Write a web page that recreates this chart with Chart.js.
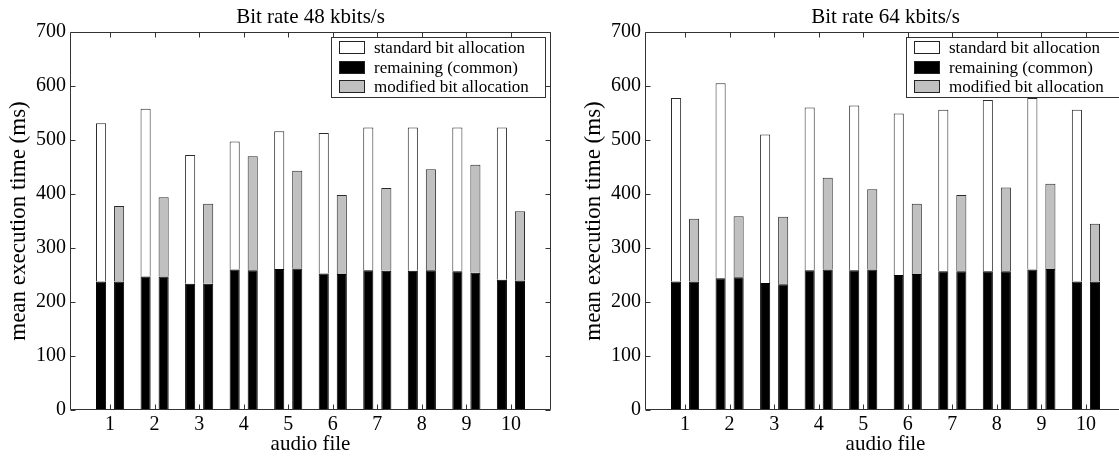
<!DOCTYPE html>
<html>
<head>
<meta charset="utf-8">
<script src="https://cdn.jsdelivr.net/npm/chart.js@4.4.1/dist/chart.umd.min.js"></script>
<style>
  html, body { margin: 0; padding: 0; background: #fff; width: 1119px; height: 458px; overflow: hidden; }
  #wrap { position: relative; width: 1119px; height: 458px; overflow: hidden; }
  #c1 { position: absolute; left: 0; top: 0; }
  #c2 { position: absolute; left: 575px; top: 0; }
</style>
</head>
<body>
<div id="wrap">
  <canvas id="c1" width="575" height="458"></canvas>
  <canvas id="c2" width="551" height="458"></canvas>
</div>
<script>
// ---- data ----
const audioFiles = [1, 2, 3, 4, 5, 6, 7, 8, 9, 10];
const xTickLabels = ['1', '2', '3', '4', '5', '6', '7', '8', '9', '10'];
const yTickValues = [0, 100, 200, 300, 400, 500, 600, 700];
const legendLabels = ['standard bit allocation', 'remaining (common)', 'modified bit allocation'];
const titles = ['Bit rate 48 kbits/s', 'Bit rate 64 kbits/s'];

// 48 kbits/s
const standard48   = [531, 558, 472, 497, 516, 513, 523, 523, 523, 523];
const commonStd48  = [238, 247, 234, 260, 261, 253, 259, 258, 257, 241];
const modified48   = [378, 394, 382, 470, 443, 398, 411, 446, 454, 368];
const commonMod48  = [238, 247, 234, 259, 262, 252, 258, 259, 254, 240];

// 64 kbits/s
const standard64   = [578, 605, 510, 560, 564, 549, 556, 574, 578, 556];
const commonStd64  = [238, 244, 235, 259, 259, 250, 257, 257, 260, 238];
const modified64   = [354, 359, 358, 430, 409, 382, 398, 412, 419, 345];
const commonMod64  = [238, 246, 233, 260, 260, 252, 257, 257, 261, 238];

const FONT = "'Liberation Serif', 'Times New Roman', serif";
const WHITE = '#ffffff', BLACK = '#000000', GREY = '#c0c0c0', EDGE = '#2a2a2a';

function floating(lo, hi) {
  return audioFiles.map((x, i) => ({ x: x, y: [lo ? lo[i] : 0, hi[i]] }));
}

function makeDatasets(std, cStd, mod, cMod) {
  const common = { borderWidth: 1, categoryPercentage: 0.81, barPercentage: 0.56 };
  return [
    Object.assign({ label: legendLabels[1], data: floating(null, cStd), backgroundColor: BLACK, borderColor: BLACK, stack: 'std', borderSkipped: false }, common),
    Object.assign({ label: legendLabels[0], data: floating(cStd, std), backgroundColor: WHITE, borderColor: EDGE, stack: 'std', borderSkipped: 'start' }, common),
    Object.assign({ label: legendLabels[1], data: floating(null, cMod), backgroundColor: BLACK, borderColor: BLACK, stack: 'mod', borderSkipped: false }, common),
    Object.assign({ label: legendLabels[2], data: floating(cMod, mod), backgroundColor: GREY, borderColor: EDGE, stack: 'mod', borderSkipped: 'start' }, common)
  ];
}

const framePlugin = {
  id: 'frame',
  afterDraw(chart, args, opts) {
    const ctx = chart.ctx;
    const a = chart.chartArea;
    const xs = chart.scales.x, ys = chart.scales.y;
    const L = Math.round(a.left) + 0.5, R = Math.round(a.right) - 0.5;
    const T = Math.round(a.top) + 0.5, B = Math.round(a.bottom) - 0.5;
    ctx.save();
    ctx.strokeStyle = '#333';
    ctx.lineWidth = 1;
    ctx.beginPath();
    ctx.rect(L, T, R - L, B - T);
    // inward ticks
    const tl = 5;
    yTickValues.forEach(v => {
      const y = Math.round(ys.getPixelForValue(v)) + 0.5;
      ctx.moveTo(L, y); ctx.lineTo(L + tl, y);
      ctx.moveTo(R, y); ctx.lineTo(R - tl, y);
    });
    audioFiles.forEach(v => {
      const x = Math.round(xs.getPixelForValue(v)) + 0.5;
      ctx.moveTo(x, B); ctx.lineTo(x, B - tl);
      ctx.moveTo(x, T); ctx.lineTo(x, T + tl);
    });
    ctx.stroke();

    // title centred over the axes
    ctx.fillStyle = '#000';
    ctx.font = '21px ' + FONT;
    ctx.textAlign = 'center';
    ctx.textBaseline = 'middle';
    ctx.fillText(opts.title, (a.left + a.right) / 2, 17);

    // legend inside the axes, upper right
    const lw = 214, lh = 60;
    const lx = Math.round(a.right) - 6 - lw, ly = Math.round(a.top) + 5;
    ctx.fillStyle = '#fff';
    ctx.fillRect(lx, ly, lw, lh);
    ctx.strokeStyle = '#333';
    ctx.strokeRect(lx + 0.5, ly + 0.5, lw, lh);
    const items = [
      { text: legendLabels[0], fill: WHITE },
      { text: legendLabels[1], fill: BLACK },
      { text: legendLabels[2], fill: GREY }
    ];
    ctx.font = '17px ' + FONT;
    ctx.textAlign = 'left';
    items.forEach((it, i) => {
      const cy = ly + 10.7 + i * 19.5;
      ctx.fillStyle = it.fill;
      ctx.fillRect(lx + 8, Math.round(cy - 6.5), 26, 13);
      ctx.strokeStyle = '#222';
      ctx.strokeRect(lx + 8.5, Math.round(cy - 6.5) + 0.5, 25, 12);
      ctx.fillStyle = '#000';
      ctx.fillText(it.text, lx + 43, cy + 1);
    });
    ctx.restore();
  }
};

function makeChart(canvasId, datasets, title, padRight) {
  return new Chart(document.getElementById(canvasId), {
    type: 'bar',
    data: { datasets: datasets },
    plugins: [framePlugin],
    options: {
      responsive: false,
      animation: false,
      devicePixelRatio: 1,
      layout: { padding: { top: 32, right: padRight, left: 0, bottom: 0 } },
      plugins: {
        legend: { display: false },
        title: { display: false },
        tooltip: { enabled: false },
        frame: { title: title }
      },
      scales: {
        x: {
          type: 'linear',
          min: 0.1,
          max: 10.9,
          offset: false,
          grid: { display: false, drawTicks: false },
          border: { display: false },
          afterBuildTicks: (s) => { s.ticks = audioFiles.map(v => ({ value: v })); },
          afterFit: (s) => { s.height = 48; },
          ticks: {
            color: '#000',
            font: { family: FONT, size: 20 },
            padding: 3,
            maxRotation: 0,
            autoSkip: false,
            callback: (v) => xTickLabels[audioFiles.indexOf(v)]
          },
          title: {
            display: true,
            text: 'audio file',
            color: '#000',
            font: { family: FONT, size: 21 },
            padding: { top: 0, bottom: 1 }
          }
        },
        y: {
          min: 0,
          max: 700,
          stacked: false,
          grid: { display: false, drawTicks: false },
          border: { display: false },
          afterBuildTicks: (s) => { s.ticks = yTickValues.map(v => ({ value: v })); },
          afterFit: (s) => { s.width = 70; },
          ticks: {
            color: '#000',
            font: { family: FONT, size: 20 },
            padding: 4
          },
          title: {
            display: true,
            text: 'mean execution time (ms)',
            color: '#000',
            font: { family: FONT, size: 23 },
            padding: { top: 5, bottom: 0 }
          }
        }
      }
    }
  });
}

makeChart('c1', makeDatasets(standard48, commonStd48, modified48, commonMod48), titles[0], 24);
makeChart('c2', makeDatasets(standard64, commonStd64, modified64, commonMod64), titles[1], 0);
</script>
</body>
</html>
